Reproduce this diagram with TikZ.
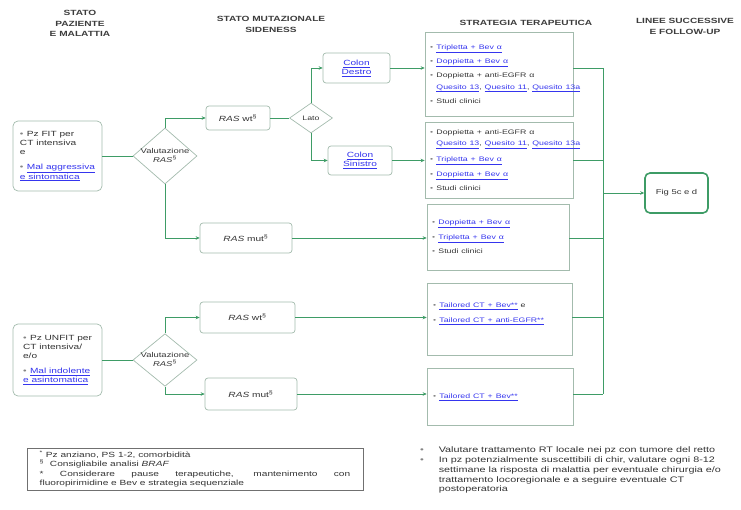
\documentclass[tikz,border=0pt]{standalone}
\usepackage{fontspec}
\setmainfont{Liberation Sans}
\usepackage{graphicx}
\usetikzlibrary{shapes.geometric,arrows.meta}

\definecolor{lnk}{HTML}{3535EE}
\definecolor{flow}{HTML}{3E9C66}
\definecolor{frame}{HTML}{A3BBAD}
\definecolor{ink}{HTML}{333333}
\definecolor{hdr}{HTML}{3C3C3C}

% text is set slightly wide
\newcommand\wide[1]{\scalebox{1.35}[1]{#1}}
\newcommand\lk[1]{\textcolor{lnk}{\underline{#1}}}
\newcommand\blt{{\color{ink!60}\textbullet}\hspace{2.5pt}}
\newcommand\rows[2][l]{\wide{\begin{tabular}{@{}#1@{}}#2\end{tabular}}}

\tikzset{
  base/.style={font=\fontsize{7.5}{9}\selectfont, text=ink},
  pbox/.style={base, draw=frame, rounded corners=5pt, line width=0.7pt, fill=white, inner sep=0pt},
  rasbox/.style={pbox, rounded corners=3pt},
  choice/.style={base, draw=frame, diamond, line width=0.7pt, inner sep=-2pt, aspect=1.15,
                 font=\fontsize{7}{8.5}\selectfont},
  sbox/.style={base, draw=frame, line width=0.7pt, inner sep=0pt, align=left,
               font=\fontsize{6.5}{11.5}\selectfont},
  header/.style={font=\bfseries\fontsize{7.5}{10.8}\selectfont, text=hdr},
  link/.style={draw=flow, line width=0.9pt},
  arr/.style={link, -{Stealth[length=4pt,width=3.6pt]}},
  goal/.style={base, draw=flow, line width=1.6pt, rounded corners=5pt, fill=white,
               font=\fontsize{7}{8}\selectfont}
}

\begin{document}
\begin{tikzpicture}[x=1pt,y=-1pt]
\useasboundingbox (0,0) rectangle (741,510);

% column headers
\node[header] (hPat) at (80,24) {\rows[c]{STATO\\PAZIENTE\\E MALATTIA}};
\node[header] (hMut) at (271,25) {\rows[c]{STATO MUTAZIONALE\\SIDENESS}};
\node[header] (hStr) at (526,23) {\wide{STRATEGIA TERAPEUTICA}};
\node[header] (hFol) at (685,27) {\rows[c]{LINEE SUCCESSIVE\\E FOLLOW-UP}};

% patient groups
\node[pbox, minimum width=89pt, minimum height=70pt] (fit) at (57.5,156)
  {\rows{\blt Pz FIT per\\CT intensiva\\e\\[6pt]\blt\lk{Mal aggressiva}\\\lk{e sintomatica}}};
\node[pbox, minimum width=89pt, minimum height=72pt] (unfit) at (57.5,360)
  {\rows{\blt Pz UNFIT per\\CT intensiva/\\e/o\\[6pt]\blt\lk{Mal indolente}\\\lk{e asintomatica}}};

% RAS assessment
\node[choice, minimum width=64pt, minimum height=56pt] (d1) at (165,156)
  {\rows[c]{Valutazione\\\textit{RAS}\textsuperscript{§}}};
\node[choice, minimum width=64pt, minimum height=52pt] (d2) at (165,360)
  {\rows[c]{Valutazione\\\textit{RAS}\textsuperscript{§}}};

% mutational status
\node[rasbox, minimum width=64pt, minimum height=24pt] (wt1) at (238,118)
  {\wide{\textit{RAS} wt\textsuperscript{§}}};
\node[rasbox, minimum width=92pt, minimum height=30pt] (mut1) at (246,238)
  {\wide{\textit{RAS} mut\textsuperscript{§}}};
\node[rasbox, minimum width=95pt, minimum height=31pt] (wt2) at (247.5,317.5)
  {\wide{\textit{RAS} wt\textsuperscript{§}}};
\node[rasbox, minimum width=92pt, minimum height=32pt] (mut2) at (251,394)
  {\wide{\textit{RAS} mut\textsuperscript{§}}};

% sidedness
\node[choice, minimum width=43pt, minimum height=30pt, inner sep=0pt, aspect=1.4,
      font=\fontsize{6.5}{8}\selectfont] (lato) at (311,118) {\wide{Lato}};
\node[rasbox, minimum width=67pt, minimum height=30pt] (cd) at (356.5,68)
  {\rows[c]{\lk{Colon}\\\lk{Destro}}};
\node[rasbox, minimum width=64pt, minimum height=29pt] (cs) at (360,160.5)
  {\rows[c]{\lk{Colon}\\\lk{Sinistro}}};

% therapeutic strategy
\node[sbox, minimum width=148pt, minimum height=84pt, text width=138pt] (s1) at (499,74)
  {\rows{\blt\lk{Tripletta + Bev α}\\[2.5pt]
         \blt\lk{Doppietta + Bev α}\\[2.5pt]
         \blt Doppietta + anti-EGFR α\\
         \phantom{\blt}\lk{Quesito 13}, \lk{Quesito 11}, \lk{Quesito 13a}\\[2.5pt]
         \blt Studi clinici}};
\node[sbox, minimum width=148pt, minimum height=76pt, text width=138pt] (s2) at (499,160)
  {\rows{\blt Doppietta + anti-EGFR α\\
         \phantom{\blt}\lk{Quesito 13}, \lk{Quesito 11}, \lk{Quesito 13a}\\[4pt]
         \blt\lk{Tripletta + Bev α}\\[4pt]
         \blt\lk{Doppietta + Bev α}\\[2pt]
         \blt Studi clinici}};
\node[sbox, minimum width=142pt, minimum height=66pt, text width=132pt] (s3) at (498,237)
  {\rows{\blt\lk{Doppietta + Bev α}\\[3pt]
         \blt\lk{Tripletta + Bev α}\\[3pt]
         \blt Studi clinici}};
\node[sbox, minimum width=145pt, minimum height=72pt, text width=133pt] (s4) at (499.5,319)
  {\rows{\blt\lk{Tailored CT + Bev**} e\\[3.5pt]
         \blt\lk{Tailored CT + anti-EGFR**}\\[13pt]}};
\node[sbox, minimum width=146pt, minimum height=57pt, text width=134pt] (s5) at (500,396.5)
  {\rows{\blt\lk{Tailored CT + Bev**}}};

% follow-up
\node[goal, minimum width=63pt, minimum height=40pt] (fig) at (676.5,193) {\wide{Fig 5c e d}};

% connectors
\draw[link] (fit) -- (d1);
\draw[arr] (d1.north) |- (wt1.west);
\draw[arr] (d1.south) |- (mut1.west);
\draw[link] (wt1) -- (lato);
\draw[arr] (lato.north) |- (cd.west);
\draw[arr] (lato.south) |- (cs.west);
\draw[arr] (cd.east) -- (cd.east -| s1.west);
\draw[arr] (cs.east) -- (cs.east -| s2.west);
\draw[arr] (mut1.east) -- (mut1.east -| s3.west);

\draw[link] (unfit) -- (d2);
\draw[arr] (d2.north) |- (wt2.west);
\draw[arr] (d2.south) |- (mut2.west);
\draw[arr] (wt2.east) -- (wt2.east -| s4.west);
\draw[arr] (mut2.east) -- (mut2.east -| s5.west);

% collecting bus towards the follow-up box
\coordinate (busTop) at (603,68);
\coordinate (busBot) at (603,394);
\draw[link] (s1.east |- cd) -- (busTop);
\draw[link] (s2.east |- cs) -- (busTop |- cs);
\draw[link] (s3.east |- mut1) -- (busTop |- mut1);
\draw[link] (s4.east |- wt2) -- (busTop |- wt2);
\draw[link] (s5.east |- mut2) -- (busBot);
\draw[link] (busTop) -- (busBot);
\draw[arr] (busTop |- fig) -- (fig.west);

% footnotes
\node[base, draw=ink!70, line width=0.6pt, inner sep=0pt, minimum width=336pt, minimum height=42pt,
      font=\fontsize{7.5}{9.4}\selectfont] (legend) at (195,469)
  {\wide{\parbox{230pt}{\hyphenpenalty=10000\exhyphenpenalty=10000
    \textsuperscript{*} Pz anziano, PS 1-2, comorbidità\\
    \textsuperscript{§}\ \ Consigliabile analisi \textit{BRAF}\\
    **\ Considerare pause terapeutiche, mantenimento con\linebreak
    fluoropirimidine e Bev e strategia sequenziale}}};

\node[base, anchor=north west, inner sep=0pt, font=\fontsize{8}{9.7}\selectfont] (notes) at (420,446)
  {\wide{\begin{tabular}{@{}l@{\hspace{11pt}}l@{}}
    {\color{ink!60}\textbullet} & Valutare trattamento RT locale nei pz con tumore del retto\\
    {\color{ink!60}\textbullet} & In pz potenzialmente suscettibili di chir, valutare ogni 8-12\\
     & settimane la risposta di malattia per eventuale chirurgia e/o\\
     & trattamento locoregionale e a seguire eventuale CT\\
     & postoperatoria
  \end{tabular}}};
\end{tikzpicture}
\end{document}
